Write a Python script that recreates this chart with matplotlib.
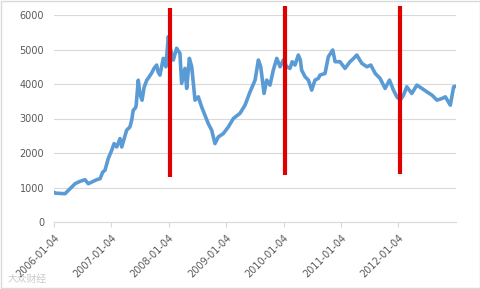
import matplotlib
matplotlib.use("Agg")
import matplotlib.pyplot as plt
import pandas as pd

# ---- data ----
dates = [
    "2006-01-04", "2006-01-10", "2006-03-15", "2006-04-16", "2006-05-18", "2006-06-18",
    "2006-07-20", "2006-08-10", "2006-09-01", "2006-10-03", "2006-10-24", "2006-11-10",
    "2006-11-24", "2006-12-15", "2007-01-06", "2007-01-21", "2007-02-07", "2007-02-28",
    "2007-03-11", "2007-04-11", "2007-05-02", "2007-05-13", "2007-05-23", "2007-06-03",
    "2007-06-10", "2007-06-24", "2007-07-05", "2007-07-18", "2007-07-31", "2007-08-17",
    "2007-08-31", "2007-09-17", "2007-10-02", "2007-10-19", "2007-10-28", "2007-11-09",
    "2007-11-30", "2007-12-17", "2008-01-01", "2008-01-16", "2008-02-02", "2008-02-23",
    "2008-03-15", "2008-03-26", "2008-04-16", "2008-04-27", "2008-05-14", "2008-05-29",
    "2008-06-19", "2008-07-10", "2008-07-31", "2008-08-21", "2008-09-11", "2008-10-03",
    "2008-10-24", "2008-11-14", "2008-12-16", "2009-01-17", "2009-02-18", "2009-04-01",
    "2009-05-03", "2009-06-04", "2009-07-06", "2009-07-27", "2009-08-11", "2009-09-01",
    "2009-09-18", "2009-10-09", "2009-10-30", "2009-11-21", "2009-12-12", "2010-01-02",
    "2010-01-23", "2010-02-13", "2010-02-27", "2010-03-17", "2010-04-07", "2010-04-20",
    "2010-04-28", "2010-05-20", "2010-06-10", "2010-07-01", "2010-07-22", "2010-08-12",
    "2010-08-23", "2010-09-24", "2010-10-15", "2010-11-12", "2010-11-27", "2010-12-28",
    "2011-01-29", "2011-03-02", "2011-03-25", "2011-04-14", "2011-05-16", "2011-06-17",
    "2011-07-12", "2011-08-09", "2011-09-09", "2011-10-11", "2011-11-08", "2011-12-03",
    "2011-12-25", "2012-01-15", "2012-02-05", "2012-02-26", "2012-03-29", "2012-04-30",
    "2012-06-01", "2012-07-03", "2012-08-04", "2012-09-05", "2012-10-07", "2012-10-28",
    "2012-11-29", "2012-12-20", "2012-12-31",
]
values = [
    860, 837, 820, 965, 1110, 1177,
    1226, 1110, 1157, 1227, 1255, 1448,
    1497, 1837, 2078, 2273, 2175, 2418,
    2175, 2660, 2756, 2950, 3240, 3290,
    3350, 4110, 3700, 3530, 3900, 4110,
    4200, 4316, 4450, 4549, 4350, 4258,
    4743, 4500, 5372, 4985, 4695, 5035,
    4890, 4017, 4453, 3872, 4743, 4500,
    3532, 3628, 3337, 3096, 2855, 2660,
    2273, 2465, 2564, 2756, 3000, 3150,
    3387, 3773, 4113, 4695, 4500, 3726,
    4113, 3968, 4404, 4743, 4500, 4695,
    4500, 4453, 4646, 4549, 4840, 4695,
    4404, 4210, 4113, 3823, 4113, 4162,
    4258, 4307, 4790, 4985, 4646, 4646,
    4453, 4646, 4743, 4840, 4598, 4500,
    4549, 4307, 4162, 3872, 4113, 3823,
    3628, 3532, 3677, 3919, 3726, 3968,
    3872, 3773, 3677, 3532, 3580, 3628,
    3387, 3919, 3930,
]
tick_labels = ["2006-01-04", "2007-01-04", "2008-01-04", "2009-01-04",
               "2010-01-04", "2011-01-04", "2012-01-04"]
y_ticks = [0, 1000, 2000, 3000, 4000, 5000, 6000]
marker_dates = ["2008-01-10", "2010-01-10", "2012-01-15"]
marker_low = [1290, 1350, 1380]
marker_high = [6200, 6260, 6260]

# ---- figure ----
plt.rcParams['font.family'] = ['DejaVu Sans', 'Noto Sans CJK SC']
W, H = 481, 289
fig = plt.figure(figsize=(W / 100, H / 100), dpi=100)
ax = fig.add_axes([54 / W, 1 - 222 / H, (456 - 54) / W, (222 - 15) / H])

x = pd.to_datetime(dates)
ax.plot(x, values, color="#5B9BD5", lw=2.6, solid_joinstyle="round", zorder=3)

for d, lo, hi in zip(marker_dates, marker_low, marker_high):
    ax.plot([pd.Timestamp(d)] * 2, [lo, hi], color="#E00000", lw=3.0,
            clip_on=False, zorder=4, solid_capstyle="butt")

ax.set_ylim(0, 6000)
ax.set_xlim(pd.Timestamp("2006-01-04"), pd.Timestamp("2013-01-04"))
ax.set_yticks(y_ticks)
ax.set_yticklabels([str(v) for v in y_ticks])
ax.set_xticks(pd.to_datetime(tick_labels))
ax.set_xticklabels(tick_labels, rotation=45, ha="right", rotation_mode="anchor")

ax.grid(axis="y", color="#d9d9d9", lw=0.8)
ax.set_axisbelow(True)
for s in ["top", "right", "left"]:
    ax.spines[s].set_visible(False)
ax.spines["bottom"].set_color("#d9d9d9")
ax.spines["bottom"].set_linewidth(0.8)
ax.tick_params(axis="y", length=0, pad=7, labelsize=7, labelcolor="#595959")
ax.tick_params(axis="x", length=3.5, width=0.8, color="#d9d9d9", pad=4,
               labelsize=7, labelcolor="#595959")

# chart border
fig.patches.append(plt.Rectangle((0.002, 0.003), 0.995, 0.994, transform=fig.transFigure,
                                 fill=False, edgecolor="#d9d9d9", lw=1.0))
# watermark
fig.text(8 / W, 1 - 282 / H, "大众财经", family=["Noto Sans CJK SC", "DejaVu Sans"],
         fontsize=7, color="#c8c8c8", va="baseline", ha="left")

fig.savefig("out.png", dpi=100)
